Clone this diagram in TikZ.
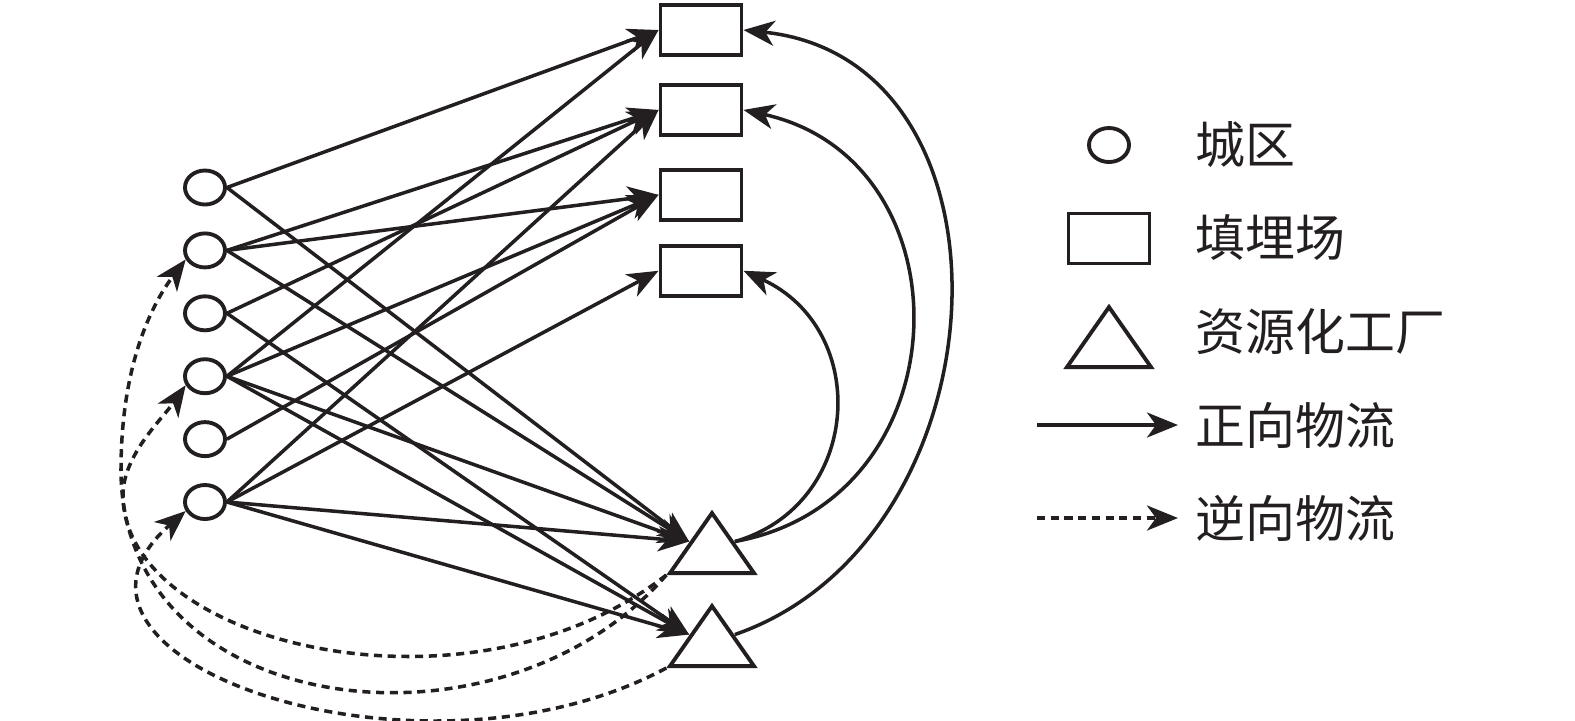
\documentclass[tikz,border=0pt]{standalone}
\usepackage{fontspec}
\newfontfamily\cjkfont{Noto Sans CJK SC}
\usetikzlibrary{arrows.meta,positioning,shapes.geometric}
\definecolor{netInk}{HTML}{231F20}
\tikzset{
  net/base/.style={draw=netInk, line width=1.1pt, inner sep=0pt},
  net/city/.style={net/base, ellipse, minimum width=0.40cm, minimum height=0.34cm},
  net/landfill/.style={net/base, rectangle, minimum width=0.81cm,
    minimum height=0.50cm},
  net/plant/.style={net/base, isosceles triangle, isosceles triangle stretches,
    shape border rotate=90, minimum width=0.84cm, minimum height=0.60cm,
    anchor=apex},
  net/forward/.style={-{Stealth[length=3.1mm,width=2.5mm,inset=0.9mm]},
    draw=netInk, line width=1pt},
  net/reverse/.style={net/forward, dash pattern=on 2.3pt off 1.6pt},
  net/label/.style={font=\cjkfont\fontsize{14.2}{17}\selectfont, text=netInk,
    anchor=west, inner sep=0pt},
}

\begin{document}
\begin{tikzpicture}[x=0.01cm, y=-0.01cm, node distance=0.25cm]
\useasboundingbox (0,0) rectangle (1575,720);
\node[net/city] (city1) at (205,187.5) {};
\node[net/city, below=of city1] (city2) {};
\node[net/city, below=of city2] (city3) {};
\node[net/city, below=of city3] (city4) {};
\node[net/city, below=of city4] (city5) {};
\node[net/city, below=of city5] (city6) {};
\node[net/landfill] (fill1) at (701,30) {};
\node[net/landfill, below=0.26cm of fill1] (fill2) {};
\node[net/landfill, below=0.31cm of fill2] (fill3) {};
\node[net/landfill, below=0.22cm of fill3] (fill4) {};
\node[net/plant] (plant1) at (712,508) {};
\node[net/plant] (plant2) at (712,601) {};
% forward flows
\draw[net/forward] (city1.east) -- (fill1.west);
\draw[net/forward] (city4.east) -- (fill1.west);
\draw[net/forward] (city2.east) -- (fill2.west);
\draw[net/forward] (city3.east) -- (fill2.west);
\draw[net/forward] (city6.east) -- (fill2.west);
\draw[net/forward] (city2.east) -- (fill3.west);
\draw[net/forward] (city4.east) -- (fill3.west);
\draw[net/forward] (city5.east) -- (fill3.west);
\draw[net/forward] (city6.east) -- (fill4.west);
\draw[net/forward] (city1.east) -- (plant1.left side);
\draw[net/forward] (city2.east) -- (plant1.left side);
\draw[net/forward] (city4.east) -- (plant1.left side);
\draw[net/forward] (city6.east) -- (plant1.left side);
\draw[net/forward] (city3.east) -- (plant2.left side);
\draw[net/forward] (city4.east) -- (plant2.left side);
\draw[net/forward] (city6.east) -- (plant2.left side);
\draw[net/forward] (plant1.right side) .. controls (862,505) and (872,330) .. (fill4.east);
\draw[net/forward] (plant1.right side) .. controls (965,500) and (972,160) .. (fill2.east);
\draw[net/forward] (plant2.right side) .. controls (1008,540) and (1030,60) .. (fill1.east);
% reverse flows
\draw[net/reverse] (plant1.left corner) .. controls (470,728) and (123,645) .. (123,495)
  .. controls (123,455) and (163,418) .. (city4.205);
\draw[net/reverse] (plant1.left corner) .. controls (501,766) and (121,720) .. (121,470)
  .. controls (121,370) and (149,308) .. (city2.205);
\draw[net/reverse] (plant2.left corner) .. controls (420,800) and (15,660) .. (city6.205);
% legend
\node[net/city] (keyCity) at (1109,145) {};
\node[net/landfill] (keyFill) at (1109,238.5) {};
\node[net/plant] (keyPlant) at (1109,302) {};
\coordinate (keyFwdA) at (1037,425);
\coordinate (keyFwdB) at (1178,425);
\coordinate (keyRevA) at (1037,518);
\coordinate (keyRevB) at (1178,518);
\draw[net/forward] (keyFwdA) -- (keyFwdB);
\draw[net/reverse] (keyRevA) -- (keyRevB);
\node[net/label] (txtCity) at (1195,145) {城区};
\node[net/label] (txtFill) at (1195,238) {填埋场};
\node[net/label] (txtPlant) at (1195,332) {资源化工厂};
\node[net/label] (txtFwd) at (1195,425) {正向物流};
\node[net/label] (txtRev) at (1195,518) {逆向物流};
\end{tikzpicture}
\end{document}
